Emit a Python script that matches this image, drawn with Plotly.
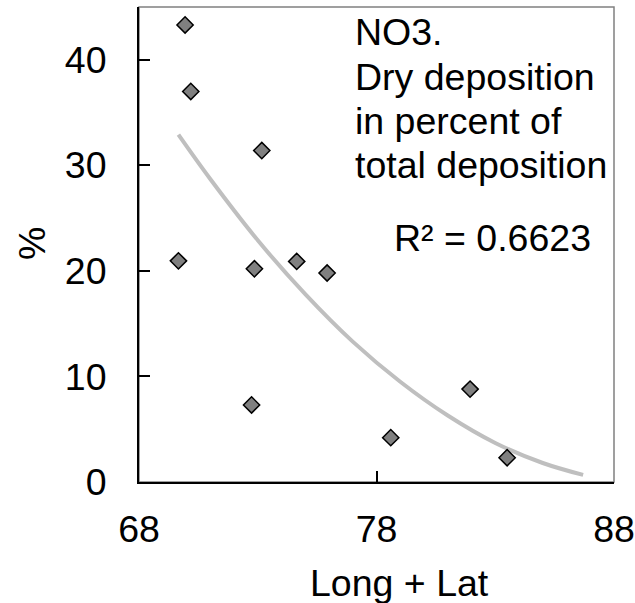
import plotly.graph_objects as go

# Data
long_lat = [69.94, 70.18, 73.17, 69.66, 72.86, 74.64, 72.74, 75.92, 78.6, 81.94, 83.5]
dry_pct = [43.3, 37.0, 31.4, 20.95, 20.2, 20.9, 7.3, 19.8, 4.2, 8.8, 2.3]
# Polynomial trendline
trend_x = [69.66, 71, 73, 75, 77, 79, 81, 83, 85, 86.7]
trend_y = [32.9, 28.7, 22.9, 17.8, 13.3, 9.5, 6.3, 3.7, 1.8, 0.67]
x_ticks = [68, 78, 88]
y_ticks = [0, 10, 20, 30, 40]
title_lines = ["NO3.", "Dry deposition", "in percent of", "total deposition"]
r2_label = "R² = 0.6623"
x_title = "Long + Lat"
y_title = "%"

FONT = "Arial, Liberation Sans, sans-serif"
FS = 37.5
W, H = 635, 603
L, R, T, B = 139, 21, 7, 121
pw, ph = W - L - R, H - T - B


def px_x(px):
    return (px - L) / pw


def px_y(py):
    return (H - B - py) / ph


fig = go.Figure()
fig.add_trace(go.Scatter(x=trend_x, y=trend_y, mode="lines", line_shape="spline",
                         line=dict(color="#BFBFBF", width=4), hoverinfo="skip"))
fig.add_trace(go.Scatter(x=long_lat, y=dry_pct, mode="markers",
                         marker=dict(symbol="diamond", size=12.5, color="#808080",
                                     line=dict(color="black", width=1.5))))

fig.add_shape(type="rect", xref="paper", yref="paper", x0=0, y0=0, x1=1, y1=1,
              line=dict(color="#808080", width=1.5), layer="below")

line_mid = [32, 77, 121, 165]
for txt, py in zip(title_lines, line_mid):
    fig.add_annotation(x=px_x(353), y=px_y(py), xref="paper", yref="paper",
                       text=txt, showarrow=False, xanchor="left", yanchor="middle",
                       font=dict(family=FONT, size=FS, color="black"))
fig.add_annotation(x=px_x(392), y=px_y(238), xref="paper", yref="paper",
                   text=r2_label, showarrow=False, xanchor="left", yanchor="middle",
                   font=dict(family=FONT, size=FS, color="black"))
fig.add_annotation(x=px_x(399), y=px_y(583), xref="paper", yref="paper",
                   text=x_title, showarrow=False, xanchor="center", yanchor="middle",
                   font=dict(family=FONT, size=FS, color="black"))
fig.add_annotation(x=px_x(32), y=px_y(244), xref="paper", yref="paper",
                   text=y_title, showarrow=False, xanchor="center", yanchor="middle",
                   textangle=-90, font=dict(family=FONT, size=FS, color="black"))

fig.update_layout(
    width=W, height=H,
    margin=dict(l=L, r=R, t=T, b=B, autoexpand=False),
    paper_bgcolor="white", plot_bgcolor="white",
    showlegend=False,
    font=dict(family=FONT, size=FS, color="black"),
)
fig.update_xaxes(range=[68, 88], tickvals=x_ticks, ticks="inside", ticklen=11,
                 tickcolor="black", tickwidth=1.5, showline=True, linecolor="black",
                 linewidth=2, showgrid=False, zeroline=False,
                 ticklabelstandoff=13, tickfont=dict(family=FONT, size=FS))
fig.update_yaxes(range=[0, 45], tickvals=y_ticks, ticks="inside", ticklen=11,
                 tickcolor="black", tickwidth=1.5, showline=True, linecolor="black",
                 linewidth=2, showgrid=False, zeroline=False,
                 ticklabelstandoff=23, tickfont=dict(family=FONT, size=FS))

fig.write_html("out.html")
